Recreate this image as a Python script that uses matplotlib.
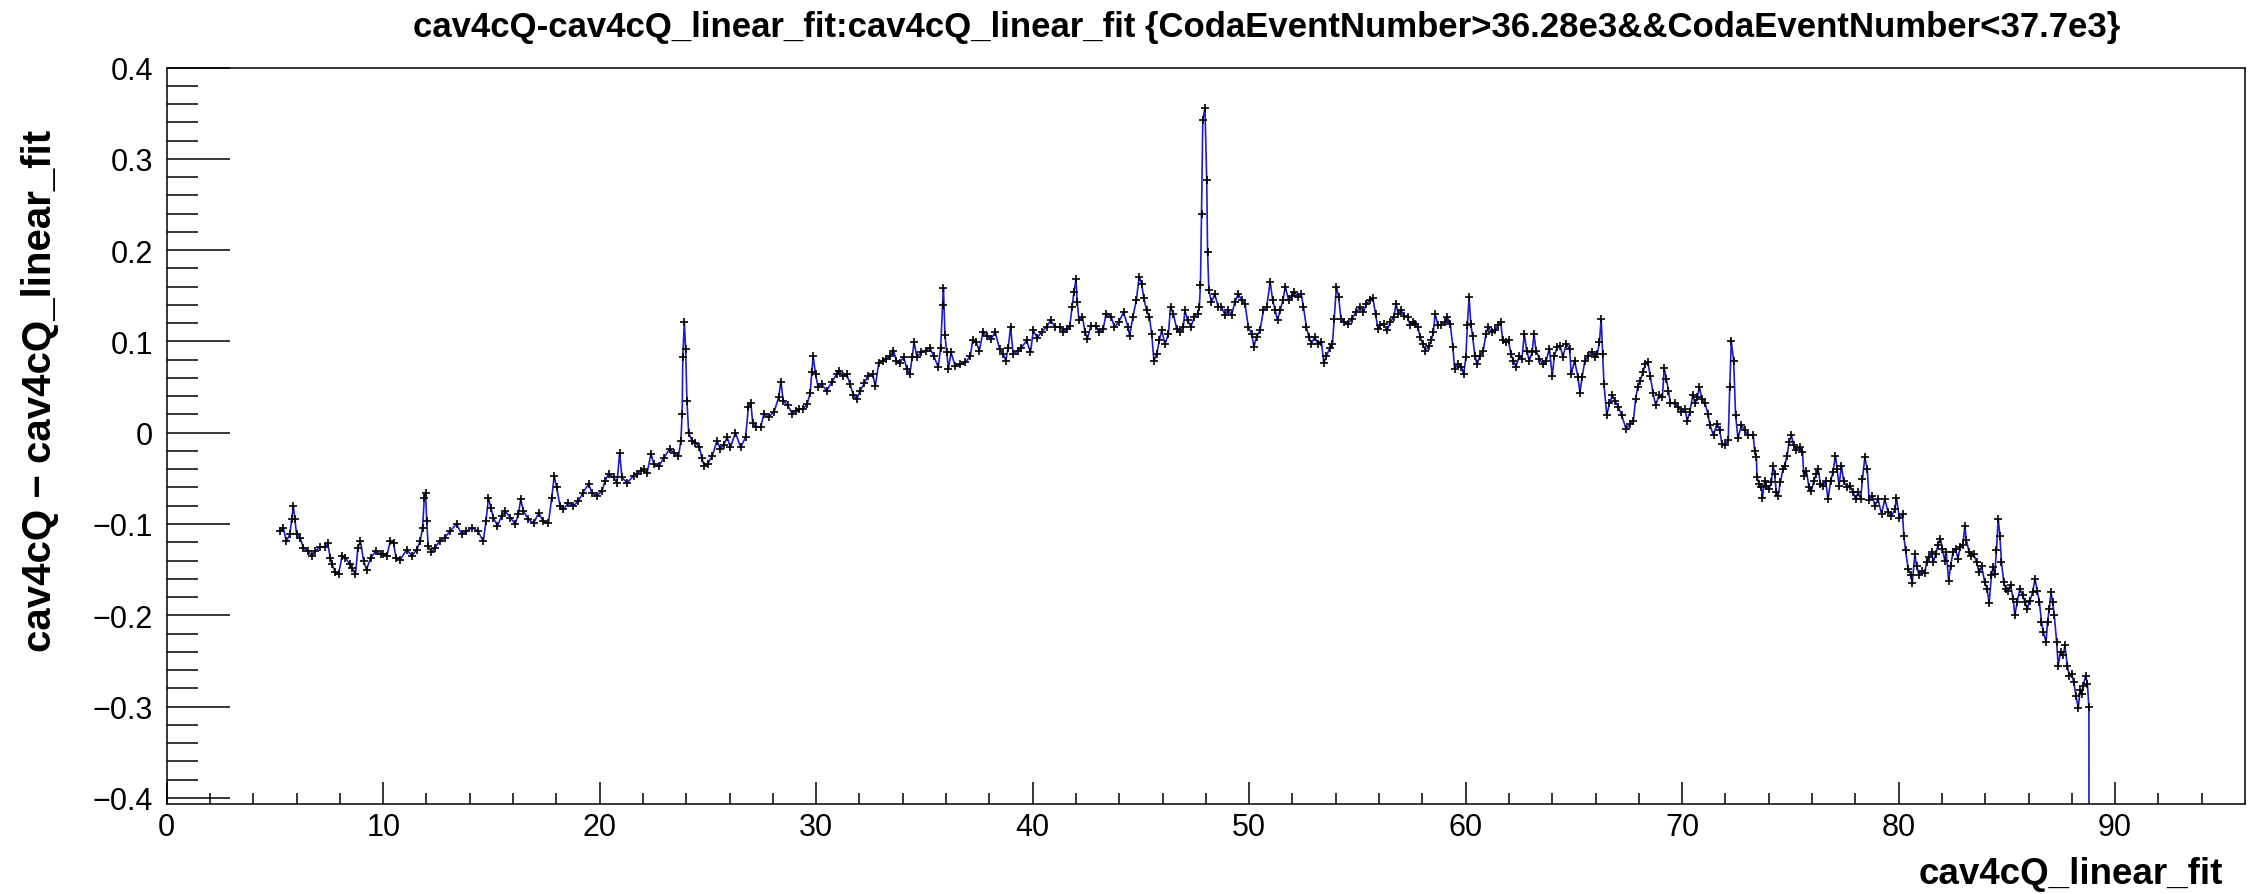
import matplotlib
matplotlib.use('Agg')
import matplotlib.pyplot as plt

plt.rcParams['font.family'] = ['Liberation Sans', 'DejaVu Sans']

TITLE = 'cav4cQ-cav4cQ_linear_fit:cav4cQ_linear_fit {CodaEventNumber>36.28e3&&CodaEventNumber<37.7e3}'
X_TITLE = 'cav4cQ_linear_fit'
Y_TITLE = 'cav4cQ \u2212 cav4cQ_linear_fit'

X_TICKS = [0, 10, 20, 30, 40, 50, 60, 70, 80, 90]
X_TICK_LABELS = ['0', '10', '20', '30', '40', '50', '60', '70', '80', '90']
Y_TICKS = [-0.4, -0.3, -0.2, -0.1, 0.0, 0.1, 0.2, 0.3, 0.4]
Y_TICK_LABELS = ['\u22120.4', '\u22120.3', '\u22120.2', '\u22120.1', '0', '0.1', '0.2', '0.3', '0.4']

# cav4cQ_linear_fit
fit_x = [
    5.22, 5.38, 5.53, 5.69, 5.77, 5.85, 5.92, 6.00, 6.16, 6.31,
    6.54, 6.70, 6.85, 7.09, 7.32, 7.43, 7.56, 7.63, 7.79, 7.94,
    8.10, 8.25, 8.46, 8.56, 8.72, 8.83, 8.95, 9.10, 9.23, 9.42,
    9.65, 9.89, 10.01, 10.17, 10.32, 10.48, 10.59, 10.79, 11.09, 11.32,
    11.55, 11.71, 11.82, 11.90, 11.96, 12.01, 12.08, 12.23, 12.38, 12.61,
    12.84, 13.08, 13.39, 13.62, 13.84, 14.12, 14.38, 14.62, 14.75, 14.86,
    14.97, 15.09, 15.28, 15.48, 15.64, 15.87, 16.10, 16.25, 16.35, 16.48,
    16.71, 16.95, 17.18, 17.40, 17.63, 17.79, 17.90, 18.01, 18.17, 18.32,
    18.55, 18.79, 19.02, 19.22, 19.49, 19.64, 19.87, 20.10, 20.25, 20.41,
    20.64, 20.80, 20.92, 21.03, 21.27, 21.58, 21.73, 21.89, 22.04, 22.19,
    22.37, 22.50, 22.73, 22.95, 23.23, 23.42, 23.64, 23.75, 23.81, 23.84,
    23.91, 23.97, 24.03, 24.11, 24.27, 24.42, 24.61, 24.72, 24.83, 24.99,
    25.19, 25.42, 25.58, 25.73, 25.89, 26.04, 26.27, 26.51, 26.74, 26.87,
    26.98, 27.07, 27.21, 27.44, 27.59, 27.80, 28.06, 28.27, 28.37, 28.48,
    28.68, 28.89, 29.07, 29.23, 29.38, 29.58, 29.72, 29.80, 29.86, 29.97,
    30.09, 30.25, 30.48, 30.71, 30.95, 31.07, 31.23, 31.41, 31.57, 31.72,
    31.88, 32.03, 32.23, 32.38, 32.61, 32.73, 32.89, 33.07, 33.23, 33.42,
    33.57, 33.70, 33.85, 34.04, 34.19, 34.32, 34.44, 34.52, 34.66, 34.86,
    35.06, 35.25, 35.43, 35.64, 35.75, 35.84, 35.88, 35.95, 36.03, 36.11,
    36.23, 36.42, 36.65, 36.89, 37.12, 37.23, 37.39, 37.54, 37.70, 37.90,
    38.09, 38.27, 38.47, 38.64, 38.76, 38.87, 38.98, 39.10, 39.33, 39.48,
    39.72, 39.90, 40.03, 40.21, 40.41, 40.64, 40.83, 41.03, 41.26, 41.42,
    41.57, 41.72, 41.82, 41.91, 42.00, 42.06, 42.14, 42.30, 42.42, 42.53,
    42.69, 42.92, 43.07, 43.26, 43.39, 43.62, 43.78, 43.98, 44.20, 44.40,
    44.48, 44.63, 44.79, 44.92, 45.03, 45.14, 45.26, 45.39, 45.50, 45.60,
    45.73, 45.85, 45.96, 46.11, 46.27, 46.37, 46.50, 46.65, 46.81, 46.96,
    47.03, 47.16, 47.31, 47.47, 47.62, 47.70, 47.75, 47.80, 47.86, 47.96,
    48.04, 48.08, 48.14, 48.26, 48.41, 48.57, 48.72, 48.88, 49.03, 49.19,
    49.34, 49.50, 49.65, 49.81, 49.96, 50.12, 50.22, 50.34, 50.50, 50.66,
    50.81, 50.97, 51.09, 51.20, 51.31, 51.43, 51.56, 51.67, 51.82, 51.98,
    52.09, 52.25, 52.40, 52.51, 52.64, 52.76, 52.87, 53.03, 53.18, 53.34,
    53.45, 53.57, 53.73, 53.85, 53.93, 54.03, 54.13, 54.24, 54.40, 54.55,
    54.75, 54.94, 55.13, 55.28, 55.41, 55.56, 55.72, 55.84, 55.95, 56.06,
    56.21, 56.37, 56.52, 56.68, 56.79, 56.89, 57.01, 57.16, 57.32, 57.43,
    57.55, 57.68, 57.79, 57.90, 58.02, 58.14, 58.30, 58.41, 58.51, 58.59,
    58.72, 58.87, 59.03, 59.15, 59.29, 59.41, 59.49, 59.65, 59.80, 59.91,
    60.01, 60.08, 60.16, 60.24, 60.32, 60.43, 60.53, 60.66, 60.81, 60.94,
    61.04, 61.20, 61.35, 61.51, 61.62, 61.71, 61.86, 61.98, 62.09, 62.21,
    62.32, 62.48, 62.60, 62.71, 62.82, 62.94, 63.07, 63.16, 63.25, 63.41,
    63.56, 63.72, 63.87, 64.00, 64.10, 64.23, 64.37, 64.49, 64.65, 64.80,
    64.88, 65.03, 65.19, 65.28, 65.38, 65.51, 65.66, 65.82, 65.97, 66.08,
    66.18, 66.26, 66.33, 66.39, 66.52, 66.64, 66.78, 66.90, 67.06, 67.21,
    67.41, 67.60, 67.75, 67.85, 67.95, 68.06, 68.19, 68.30, 68.42, 68.53,
    68.65, 68.78, 68.93, 69.09, 69.17, 69.27, 69.37, 69.46, 69.66, 69.82,
    69.97, 70.13, 70.24, 70.36, 70.49, 70.60, 70.70, 70.80, 70.91, 71.06,
    71.19, 71.29, 71.45, 71.61, 71.73, 71.84, 71.98, 72.13, 72.20, 72.27,
    72.38, 72.47, 72.58, 72.74, 72.89, 73.04, 73.28, 73.35, 73.43, 73.46,
    73.55, 73.66, 73.71, 73.81, 73.89, 74.01, 74.12, 74.20, 74.27, 74.35,
    74.43, 74.54, 74.66, 74.74, 74.85, 74.94, 75.05, 75.15, 75.28, 75.43,
    75.56, 75.62, 75.74, 75.86, 75.97, 76.08, 76.20, 76.28, 76.39, 76.51,
    76.63, 76.74, 76.86, 76.97, 77.08, 77.16, 77.25, 77.36, 77.46, 77.62,
    77.74, 77.90, 78.02, 78.13, 78.24, 78.33, 78.44, 78.55, 78.64, 78.79,
    78.90, 79.05, 79.21, 79.36, 79.52, 79.67, 79.83, 79.90, 80.03, 80.18,
    80.24, 80.32, 80.44, 80.57, 80.63, 80.75, 80.83, 80.95, 81.06, 81.21,
    81.29, 81.41, 81.52, 81.60, 81.72, 81.82, 81.93, 82.02, 82.13, 82.20,
    82.31, 82.40, 82.51, 82.63, 82.74, 82.85, 82.97, 83.06, 83.13, 83.26,
    83.36, 83.47, 83.60, 83.72, 83.83, 83.98, 84.09, 84.18, 84.29, 84.36,
    84.44, 84.52, 84.60, 84.68, 84.75, 84.86, 84.95, 85.06, 85.17, 85.29,
    85.37, 85.48, 85.60, 85.73, 85.83, 85.94, 86.06, 86.19, 86.30, 86.40,
    86.50, 86.60, 86.68, 86.81, 86.88, 86.96, 87.04, 87.11, 87.19, 87.30,
    87.37, 87.48, 87.60, 87.68, 87.79, 87.88, 87.99, 88.09, 88.19, 88.30,
    88.38, 88.45, 88.53, 88.64, 88.72, 88.79, 88.80,
]

# cav4cQ - cav4cQ_linear_fit
diff_y = [
    -0.108, -0.104, -0.119, -0.111, -0.095, -0.080, -0.095, -0.111, -0.115, -0.126,
    -0.130, -0.135, -0.130, -0.125, -0.125, -0.121, -0.137, -0.144, -0.153, -0.155,
    -0.135, -0.137, -0.144, -0.148, -0.155, -0.126, -0.119, -0.141, -0.150, -0.137,
    -0.130, -0.133, -0.133, -0.135, -0.119, -0.121, -0.137, -0.139, -0.128, -0.135,
    -0.128, -0.119, -0.104, -0.071, -0.066, -0.097, -0.124, -0.131, -0.126, -0.119,
    -0.115, -0.108, -0.100, -0.111, -0.108, -0.104, -0.108, -0.119, -0.097, -0.071,
    -0.082, -0.093, -0.102, -0.091, -0.086, -0.093, -0.100, -0.089, -0.073, -0.086,
    -0.095, -0.099, -0.088, -0.097, -0.099, -0.071, -0.047, -0.060, -0.080, -0.084,
    -0.077, -0.080, -0.075, -0.066, -0.056, -0.066, -0.069, -0.064, -0.053, -0.045,
    -0.049, -0.055, -0.022, -0.049, -0.055, -0.047, -0.045, -0.042, -0.040, -0.044,
    -0.023, -0.034, -0.037, -0.028, -0.018, -0.022, -0.026, -0.009, 0.021, 0.083,
    0.121, 0.092, 0.035, 0.000, -0.009, -0.011, -0.016, -0.028, -0.036, -0.034,
    -0.026, -0.009, -0.018, -0.013, -0.005, -0.016, 0.000, -0.016, -0.005, 0.028,
    0.033, 0.011, 0.006, 0.006, 0.021, 0.017, 0.023, 0.039, 0.056, 0.035,
    0.030, 0.021, 0.024, 0.026, 0.026, 0.031, 0.043, 0.066, 0.084, 0.064,
    0.050, 0.053, 0.046, 0.055, 0.064, 0.068, 0.062, 0.064, 0.053, 0.041,
    0.037, 0.046, 0.054, 0.062, 0.064, 0.051, 0.076, 0.079, 0.081, 0.084,
    0.090, 0.079, 0.076, 0.083, 0.070, 0.064, 0.083, 0.099, 0.083, 0.088,
    0.090, 0.093, 0.084, 0.072, 0.093, 0.140, 0.158, 0.107, 0.088, 0.070,
    0.088, 0.073, 0.075, 0.077, 0.084, 0.101, 0.099, 0.090, 0.110, 0.106,
    0.103, 0.110, 0.092, 0.086, 0.079, 0.093, 0.116, 0.086, 0.090, 0.093,
    0.101, 0.088, 0.112, 0.104, 0.110, 0.116, 0.123, 0.116, 0.116, 0.110,
    0.114, 0.117, 0.138, 0.154, 0.168, 0.143, 0.123, 0.127, 0.110, 0.103,
    0.117, 0.117, 0.110, 0.114, 0.130, 0.127, 0.116, 0.121, 0.132, 0.116,
    0.106, 0.127, 0.145, 0.171, 0.163, 0.147, 0.134, 0.127, 0.108, 0.079,
    0.086, 0.101, 0.112, 0.097, 0.108, 0.138, 0.130, 0.114, 0.110, 0.116,
    0.134, 0.123, 0.116, 0.127, 0.130, 0.138, 0.162, 0.240, 0.343, 0.356,
    0.277, 0.198, 0.156, 0.143, 0.152, 0.138, 0.138, 0.129, 0.134, 0.129,
    0.143, 0.152, 0.145, 0.141, 0.116, 0.108, 0.094, 0.105, 0.112, 0.134,
    0.138, 0.165, 0.145, 0.134, 0.123, 0.134, 0.145, 0.160, 0.145, 0.150,
    0.154, 0.149, 0.152, 0.138, 0.116, 0.105, 0.097, 0.105, 0.097, 0.099,
    0.076, 0.084, 0.093, 0.097, 0.125, 0.160, 0.149, 0.125, 0.121, 0.119,
    0.125, 0.132, 0.138, 0.132, 0.141, 0.145, 0.147, 0.130, 0.114, 0.118,
    0.119, 0.112, 0.121, 0.127, 0.141, 0.130, 0.134, 0.128, 0.127, 0.118,
    0.121, 0.119, 0.116, 0.105, 0.097, 0.090, 0.095, 0.101, 0.110, 0.130,
    0.118, 0.118, 0.121, 0.127, 0.119, 0.094, 0.070, 0.075, 0.072, 0.064,
    0.083, 0.118, 0.149, 0.119, 0.106, 0.084, 0.075, 0.084, 0.090, 0.108,
    0.116, 0.110, 0.112, 0.118, 0.121, 0.101, 0.099, 0.101, 0.086, 0.079,
    0.072, 0.084, 0.081, 0.108, 0.090, 0.079, 0.088, 0.108, 0.090, 0.081,
    0.075, 0.079, 0.092, 0.062, 0.084, 0.094, 0.095, 0.083, 0.097, 0.092,
    0.064, 0.079, 0.061, 0.044, 0.061, 0.079, 0.084, 0.088, 0.083, 0.086,
    0.099, 0.125, 0.086, 0.053, 0.019, 0.032, 0.041, 0.035, 0.028, 0.019,
    0.004, 0.010, 0.013, 0.037, 0.050, 0.057, 0.066, 0.075, 0.077, 0.062,
    0.044, 0.030, 0.041, 0.039, 0.071, 0.059, 0.046, 0.032, 0.032, 0.028,
    0.023, 0.026, 0.013, 0.023, 0.041, 0.032, 0.039, 0.050, 0.037, 0.032,
    0.021, 0.008, -0.003, 0.010, 0.003, -0.012, -0.014, -0.008, 0.050, 0.100,
    0.079, 0.019, -0.006, 0.008, 0.003, -0.003, -0.002, -0.020, -0.027, -0.049,
    -0.056, -0.060, -0.071, -0.053, -0.058, -0.062, -0.054, -0.036, -0.045, -0.065,
    -0.069, -0.054, -0.040, -0.036, -0.025, -0.010, -0.003, -0.014, -0.019, -0.016,
    -0.021, -0.047, -0.042, -0.060, -0.064, -0.053, -0.045, -0.040, -0.056, -0.058,
    -0.053, -0.073, -0.053, -0.043, -0.025, -0.040, -0.058, -0.036, -0.053, -0.060,
    -0.058, -0.065, -0.073, -0.065, -0.073, -0.051, -0.027, -0.040, -0.074, -0.069,
    -0.080, -0.073, -0.089, -0.073, -0.087, -0.091, -0.084, -0.071, -0.093, -0.089,
    -0.113, -0.129, -0.149, -0.156, -0.165, -0.133, -0.146, -0.156, -0.151, -0.154,
    -0.142, -0.136, -0.131, -0.142, -0.133, -0.123, -0.116, -0.127, -0.140, -0.131,
    -0.162, -0.146, -0.131, -0.127, -0.138, -0.125, -0.123, -0.102, -0.118, -0.131,
    -0.135, -0.133, -0.142, -0.153, -0.146, -0.164, -0.171, -0.187, -0.156, -0.147,
    -0.155, -0.129, -0.094, -0.113, -0.142, -0.164, -0.171, -0.173, -0.167, -0.182,
    -0.200, -0.185, -0.171, -0.178, -0.185, -0.193, -0.184, -0.175, -0.160, -0.173,
    -0.185, -0.207, -0.218, -0.229, -0.207, -0.193, -0.175, -0.185, -0.200, -0.229,
    -0.255, -0.240, -0.244, -0.233, -0.255, -0.266, -0.264, -0.273, -0.288, -0.302,
    -0.282, -0.286, -0.277, -0.266, -0.275, -0.301, -0.750,
]

W, H = 2250, 895
fig = plt.figure(figsize=(W / 100, H / 100), dpi=100)
ax = fig.add_axes([166.7 / W, 1 - 805 / H, (2245 - 166.7) / W, (805 - 68.5) / H])

# graph drawn as line + markers, like ROOT "LP"
ax.plot(fit_x, diff_y, color='#1c1cc8', lw=1.2, zorder=2)
ax.plot(fit_x, diff_y, ls='none', marker='+', ms=5.5, mew=1.2, color='black', zorder=3)

ax.set_xlim(0, 96.0)
ax.set_ylim(-0.4067, 0.4)

ax.set_xticks(X_TICKS)
ax.set_xticklabels(X_TICK_LABELS)
ax.set_xticks([v for v in range(2, 96, 2) if v % 10], minor=True)
ax.set_yticks(Y_TICKS)
ax.set_yticklabels(Y_TICK_LABELS)
ax.set_yticks([round(-0.4 + 0.02 * i, 2) for i in range(41) if i % 5], minor=True)

ax.tick_params(which='both', direction='in', top=False, right=False, width=1.1,
               labelsize=22, colors='black')
ax.tick_params(axis='y', which='major', length=45, pad=10)
ax.tick_params(axis='y', which='minor', length=22.5)
ax.tick_params(axis='x', which='major', length=16, pad=6)
ax.tick_params(axis='x', which='minor', length=8)
for s in ax.spines.values():
    s.set_linewidth(1.1)

fig.text(1267 / W, 1 - 37 / H, TITLE, ha='center', va='baseline',
         fontsize=25, fontweight='bold')
fig.text(2223 / W, 1 - 884 / H, X_TITLE, ha='right', va='baseline',
         fontsize=26.5, fontweight='bold')
fig.text(40 / W, 1 - 391 / H, Y_TITLE, ha='center', va='center', rotation=90,
         fontsize=29, fontweight='bold')

fig.savefig('out.png', dpi=100)
